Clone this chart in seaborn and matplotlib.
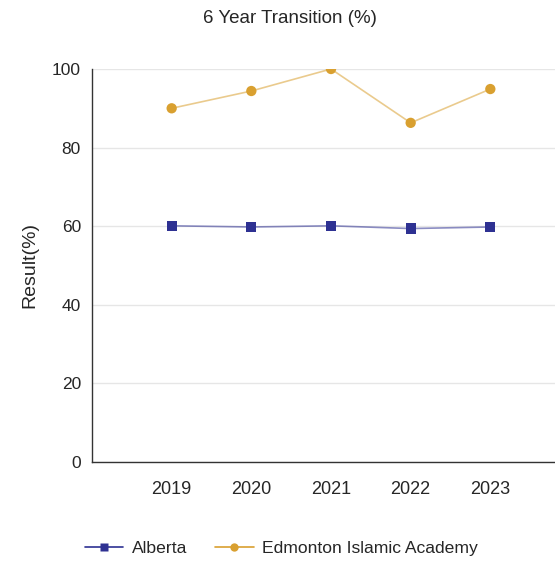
import numpy as np
import pandas as pd
import seaborn as sns
import matplotlib.pyplot as plt

years = [2019, 2020, 2021, 2022, 2023]
alberta = [60.1, 59.8, 60.1, 59.4, 59.8]
eia = [90.0, 94.4, 100.0, 86.3, 94.9]

df = pd.DataFrame({
    'Year': years * 2,
    'Result': alberta + eia,
    'Series': ['Alberta'] * 5 + ['Edmonton Islamic Academy'] * 5,
})

sns.set_style('white')
plt.rcParams['font.family'] = ['Liberation Sans', 'DejaVu Sans']

fig = plt.figure(figsize=(5.55, 5.64), dpi=100)
ax = fig.add_axes([92 / 555, 102 / 564, 478 / 555, 393 / 564])

palette = {'Alberta': '#2e3192', 'Edmonton Islamic Academy': '#d9a030'}
markers = {'Alberta': 's', 'Edmonton Islamic Academy': 'o'}
for name, grp in df.groupby('Series'):
    ax.plot(grp['Year'], grp['Result'], color=palette[name], alpha=0.55, lw=1.2, zorder=2)
sns.scatterplot(data=df, x='Year', y='Result', hue='Series', style='Series',
                palette=palette, markers=markers, s=55, edgecolor='none',
                ax=ax, legend=False, zorder=3)

ax.set_xlim(2018, 2024)
ax.set_ylim(0, 100)
ax.set_xticks([2018] + years)
ax.set_xticklabels([''] + [str(y) for y in years], fontsize=13)
ax.set_yticks(range(0, 101, 20))
ax.set_yticklabels([str(v) for v in range(0, 101, 20)], fontsize=12.5)
ax.yaxis.grid(True, color='#e6e6e6', lw=1)
ax.set_axisbelow(True)
for s in ['top', 'right']:
    ax.spines[s].set_visible(False)
for s in ['left', 'bottom']:
    ax.spines[s].set_color('#333333')
    ax.spines[s].set_linewidth(1)
ax.tick_params(axis='both', direction='out', length=5, width=1, color='#555555', pad=3)
ax.tick_params(axis='x', pad=9)
ax.set_xlabel('')
ax.set_ylabel('Result(%)', fontsize=14, labelpad=10)

fig.text(0.523, 0.967, '6 Year Transition (%)', ha='center', va='center', fontsize=13.5)

handles = [
    plt.Line2D([], [], color='#2e3192', marker='s', markersize=6, lw=1.2,
               markeredgecolor='none'),
    plt.Line2D([], [], color='#d9a030', marker='o', markersize=6, lw=1.2,
               markeredgecolor='none'),
]
fig.legend(handles, ['Alberta', 'Edmonton Islamic Academy'], loc='center',
           bbox_to_anchor=(0.507, 0.027), ncol=2, frameon=False, fontsize=12.6,
           handlelength=2.2, columnspacing=1.6, handletextpad=0.5)

fig.savefig('out.png', dpi=100)
